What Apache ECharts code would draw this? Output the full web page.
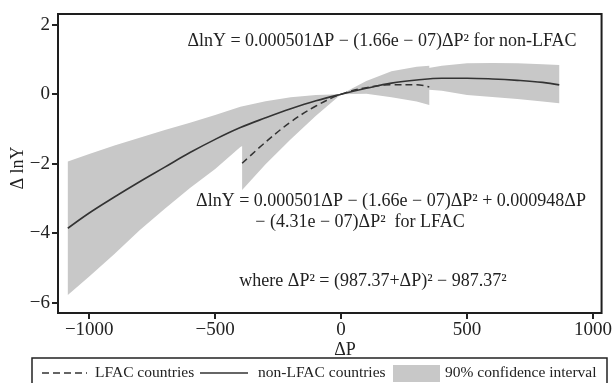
<!DOCTYPE html>
<html><head><meta charset="utf-8">
<script src="https://cdn.jsdelivr.net/npm/echarts@6/dist/echarts.min.js"></script>
<style>html,body{margin:0;padding:0;background:#fff}#c{width:615px;height:383px}</style>
</head><body><div id="c"></div>
<script>
// ---- data ----
const xTicks = [-1000, -500, 0, 500, 1000];
const yTicks = [-6, -4, -2, 0, 2];

const nonX     = [-1085, -1000, -900, -800, -700, -600, -500, -400, -300, -200, -100, 0, 100, 200, 300, 400, 500, 600, 700, 800, 866];
const nonMid   = [-3.86, -3.42, -2.96, -2.52, -2.10, -1.68, -1.30, -0.96, -0.68, -0.42, -0.19, 0, 0.17, 0.32, 0.41, 0.46, 0.46, 0.44, 0.40, 0.34, 0.27];
const nonUpper = [-1.94, -1.72, -1.48, -1.25, -1.03, -0.82, -0.60, -0.36, -0.20, -0.09, -0.02, 0, 0.28, 0.52, 0.70, 0.82, 0.89, 0.90, 0.89, 0.86, 0.84];
const nonLower = [-5.78, -5.25, -4.60, -3.92, -3.30, -2.70, -2.15, -1.52, -1.14, -0.74, -0.35, 0, 0.07, 0.12, 0.16, 0.10, -0.02, -0.08, -0.14, -0.21, -0.26];

const lfacX     = [-393, -300, -200, -100, 0, 100, 200, 300, 350];
const lfacMid   = [-1.99, -1.38, -0.80, -0.34, 0, 0.19, 0.27, 0.27, 0.21];
const lfacUpper = [-1.22, -0.81, -0.35, -0.22, 0, 0.38, 0.66, 0.79, 0.82];
const lfacLower = [-2.76, -2.02, -1.30, -0.62, 0, 0.01, -0.09, -0.21, -0.31];

const seriesNames = ['LFAC countries', 'non-LFAC countries', '90% confidence interval'];
const annotationTexts = [
  'ΔlnY = 0.000501ΔP − (1.66e − 07)ΔP² for non-LFAC',
  'ΔlnY = 0.000501ΔP − (1.66e − 07)ΔP² + 0.000948ΔP',
  '− (4.31e − 07)ΔP²  for LFAC',
  'where ΔP² = (987.37+ΔP)² − 987.37²'
];
const xTitle = 'ΔP';
const yTitle = 'Δ lnY';

// ---- chart ----
const FONT = "'Liberation Serif', 'DejaVu Serif', serif";
const INK = '#222';
const GRAY = '#c8c8c8';
const LINE = '#333';
const minus = v => String(v).replace('-', '\u2212');

function bandSeries(name, xs, up, lo) {
  return {
    name: name, type: 'custom', coordinateSystem: 'cartesian2d', silent: true, clip: true, z: 1,
    data: [[xs[0], up[0]]],
    renderItem: function (params, api) {
      const pts = [];
      for (let i = 0; i < xs.length; i++) pts.push(api.coord([xs[i], up[i]]));
      for (let i = xs.length - 1; i >= 0; i--) pts.push(api.coord([xs[i], lo[i]]));
      return { type: 'polygon', shape: { points: pts }, style: { fill: GRAY } };
    }
  };
}

const chart = echarts.init(document.getElementById('c'));
chart.setOption({
  animation: false,
  backgroundColor: '#fff',
  grid: { left: 58, right: 10, top: 14, bottom: 70, show: true, borderColor: '#1e1e1e', borderWidth: 2 },
  xAxis: {
    type: 'value', min: -1124, max: 1034,
    axisLine: { show: false, onZero: false }, splitLine: { show: false },
    axisTick: { show: true, customValues: xTicks, length: 6, lineStyle: { color: INK, width: 2 } },
    axisLabel: { customValues: xTicks, formatter: minus, fontFamily: FONT, fontSize: 19, color: INK, margin: 8 }
  },
  yAxis: {
    type: 'value', min: -6.30, max: 2.31,
    axisLine: { show: false, onZero: false }, splitLine: { show: false },
    axisTick: { show: true, customValues: yTicks, length: 6, lineStyle: { color: INK, width: 2 } },
    axisLabel: { customValues: yTicks, formatter: minus, fontFamily: FONT, fontSize: 19, color: INK, margin: 8 }
  },
  series: [
    bandSeries(seriesNames[2], nonX, nonUpper, nonLower),
    bandSeries(seriesNames[2], lfacX, lfacUpper, lfacLower),
    {
      name: seriesNames[1], type: 'line', z: 3, smooth: 0.4, symbol: 'none',
      data: nonX.map((x, i) => [x, nonMid[i]]),
      lineStyle: { color: LINE, width: 1.6 }
    },
    {
      name: seriesNames[0], type: 'line', z: 3, smooth: 0.4, symbol: 'none',
      data: lfacX.map((x, i) => [x, lfacMid[i]]),
      lineStyle: { color: LINE, width: 1.5, type: [7, 4] }
    }
  ],
  graphic: [
    { type: 'text', x: 382, y: 41, style: { text: annotationTexts[0], font: '18px ' + FONT, fill: INK, textAlign: 'center', textVerticalAlign: 'middle' } },
    { type: 'text', x: 391, y: 201, style: { text: annotationTexts[1], font: '18px ' + FONT, fill: INK, textAlign: 'center', textVerticalAlign: 'middle' } },
    { type: 'text', x: 360, y: 222, style: { text: annotationTexts[2], font: '18px ' + FONT, fill: INK, textAlign: 'center', textVerticalAlign: 'middle' } },
    { type: 'text', x: 373, y: 281, style: { text: annotationTexts[3], font: '18px ' + FONT, fill: INK, textAlign: 'center', textVerticalAlign: 'middle' } },
    { type: 'text', x: 345, y: 350, style: { text: xTitle, font: '18px ' + FONT, fill: INK, textAlign: 'center', textVerticalAlign: 'middle' } },
    { type: 'text', x: 18, y: 168, rotation: Math.PI / 2, style: { text: yTitle, font: '18px ' + FONT, fill: INK, textAlign: 'center', textVerticalAlign: 'middle' } },
    // legend
    { type: 'rect', shape: { x: 32, y: 358, width: 575, height: 32 }, style: { fill: '#fff', stroke: INK, lineWidth: 1.5 }, z: 10 },
    { type: 'line', shape: { x1: 42, y1: 373, x2: 87, y2: 373 }, style: { stroke: LINE, lineWidth: 1.5, lineDash: [7, 4] }, z: 11 },
    { type: 'text', x: 95, y: 373, style: { text: seriesNames[0], font: '15.5px ' + FONT, fill: INK, textVerticalAlign: 'middle' }, z: 11 },
    { type: 'line', shape: { x1: 200, y1: 373, x2: 248, y2: 373 }, style: { stroke: LINE, lineWidth: 1.5 }, z: 11 },
    { type: 'text', x: 258, y: 373, style: { text: seriesNames[1], font: '15.5px ' + FONT, fill: INK, textVerticalAlign: 'middle' }, z: 11 },
    { type: 'rect', shape: { x: 393, y: 365, width: 47, height: 17 }, style: { fill: GRAY }, z: 11 },
    { type: 'text', x: 445, y: 373, style: { text: seriesNames[2], font: '15.5px ' + FONT, fill: INK, textVerticalAlign: 'middle' }, z: 11 }
  ]
});
</script>
</body></html>
